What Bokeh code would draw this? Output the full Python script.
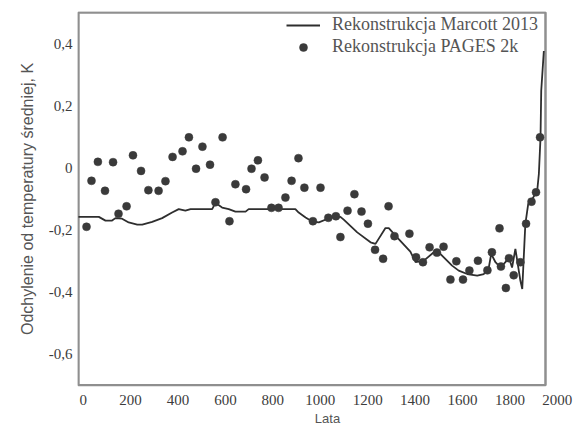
from bokeh.plotting import figure
from bokeh.models import Range1d, FixedTicker, Legend, LegendItem
from bokeh.embed import file_html
from bokeh.resources import INLINE

# Marcott 2013 reconstruction (year, anomaly K)
marcott_year = [-20, 66, 94, 122, 136, 164, 192, 228, 249, 291, 333, 375, 403, 431, 453,
                544, 558, 586, 614, 642, 685, 698, 895, 909, 938, 966, 994, 1029, 1057,
                1085, 1099, 1156, 1212, 1233, 1275, 1289, 1324, 1380, 1402, 1437, 1479,
                1493, 1556, 1584, 1620, 1662, 1690, 1711, 1721, 1739, 1760, 1781, 1795,
                1809, 1823, 1844, 1852, 1861, 1865, 1877, 1894, 1915, 1922, 1929, 1932, 1943]
marcott_val = [-0.158, -0.158, -0.170, -0.170, -0.162, -0.164, -0.176, -0.183, -0.183,
               -0.174, -0.162, -0.144, -0.133, -0.138, -0.133, -0.133, -0.113, -0.128,
               -0.133, -0.141, -0.141, -0.133, -0.133, -0.144, -0.160, -0.173, -0.176,
               -0.165, -0.158, -0.158, -0.167, -0.208, -0.240, -0.245, -0.194, -0.194,
               -0.224, -0.270, -0.304, -0.299, -0.272, -0.267, -0.315, -0.331, -0.342,
               -0.347, -0.342, -0.321, -0.277, -0.304, -0.321, -0.304, -0.288, -0.321,
               -0.261, -0.363, -0.390, -0.245, -0.181, -0.117, -0.101, -0.074, -0.020,
               0.097, 0.248, 0.376]

# PAGES 2k reconstruction (year, anomaly K)
pages_year = [14, 35, 62, 92, 126, 149, 183, 210, 244, 275, 318, 347, 377, 419, 446, 476,
              503, 535, 558, 588, 617, 642, 687, 710, 737, 765, 794, 824, 853, 879, 908,
              933, 969, 1001, 1034, 1066, 1085, 1115, 1144, 1174, 1201, 1231, 1265, 1288,
              1313, 1376, 1404, 1433, 1461, 1492, 1520, 1549, 1574, 1602, 1629, 1665,
              1705, 1724, 1756, 1762, 1783, 1796, 1816, 1844, 1868, 1891, 1910, 1927]
pages_val = [-0.190, -0.042, 0.019, -0.074, 0.018, -0.148, -0.124, 0.040, -0.010, -0.072,
             -0.074, -0.043, 0.035, 0.053, 0.098, -0.003, 0.068, 0.010, -0.111, 0.098,
             -0.172, -0.053, -0.069, -0.003, 0.024, -0.031, -0.129, -0.129, -0.096,
             -0.042, 0.031, -0.064, -0.172, -0.064, -0.161, -0.156, -0.223, -0.138,
             -0.085, -0.141, -0.180, -0.264, -0.293, -0.124, -0.220, -0.212, -0.288,
             -0.304, -0.256, -0.273, -0.254, -0.360, -0.301, -0.360, -0.331, -0.299,
             -0.330, -0.272, -0.195, -0.318, -0.387, -0.291, -0.346, -0.304, -0.180,
             -0.109, -0.079, 0.098]

x_ticks = [0, 200, 400, 600, 800, 1000, 1200, 1400, 1600, 1800, 2000]
y_ticks = [-0.6, -0.4, -0.2, 0.0, 0.2, 0.4]
y_tick_labels = {-0.6: "-0,6", -0.4: "-0,4", -0.2: "-0,2", 0.0: "0", 0.2: "0,2", 0.4: "0,4"}

# plot box (data limits of the drawn frame)
box_x = [-20, 1950]
box_y = [-0.7, 0.5]

SERIF = "Liberation Serif"
SANS = "Liberation Sans"

p = figure(width=577, height=431, output_backend="svg", toolbar_location=None,
           x_range=Range1d(-24, 2085), y_range=Range1d(-0.704, 0.503),
           min_border_left=77, min_border_right=0, min_border_top=11, min_border_bottom=45)

p.background_fill_color = "white"
p.border_fill_color = "white"
p.outline_line_color = None
p.grid.visible = False

# frame box
p.quad(left=[box_x[0]], right=[box_x[1]], bottom=[box_y[0]], top=[box_y[1]],
       fill_alpha=0, line_color="#8f8f8f", line_width=2.5)

r_line = p.line(marcott_year, marcott_val, line_color="#2e2e2e", line_width=1.8)
r_pts = p.scatter(pages_year, pages_val, size=8, fill_color="#3a3a3a", line_color="#3a3a3a",
                  line_width=0.5)

p.xaxis.ticker = FixedTicker(ticks=x_ticks)
p.yaxis.ticker = FixedTicker(ticks=y_ticks)
p.yaxis.major_label_overrides = y_tick_labels
for ax in (p.xaxis, p.yaxis):
    ax.axis_line_color = None
    ax.major_tick_line_color = None
    ax.minor_tick_line_color = None
    ax.major_tick_out = 0
    ax.major_tick_in = 0
    ax.major_label_text_font = SERIF
    ax.major_label_text_font_size = "15px"
    ax.major_label_text_color = "#3c3c3c"
    ax.axis_label_text_font = SANS
    ax.axis_label_text_font_style = "normal"
    ax.axis_label_text_color = "#555555"

p.xaxis.axis_label = "Lata"
p.xaxis.axis_label_text_font_size = "13px"
p.xaxis.major_label_standoff = 8
p.xaxis.axis_label_standoff = 3
p.yaxis.axis_label = "Odchylenie od temperatury średniej, K"
p.yaxis.axis_label_text_font_size = "16px"
p.yaxis.major_label_standoff = 5
p.yaxis.axis_label_standoff = 10

legend = Legend(items=[LegendItem(label="Rekonstrukcja Marcott 2013", renderers=[r_line]),
                       LegendItem(label="Rekonstrukcja PAGES 2k", renderers=[r_pts])],
                location="top_right")
legend.background_fill_alpha = 0
legend.border_line_color = None
legend.label_text_font = SERIF
legend.label_text_font_size = "18px"
legend.label_text_color = "#555555"
legend.glyph_width = 34
legend.glyph_height = 20
legend.label_height = 20
legend.label_width = 242
legend.label_standoff = 12
legend.spacing = 1
legend.padding = 2
legend.margin = 3
p.add_layout(legend)

open("out.html", "w").write(file_html(p, INLINE))
